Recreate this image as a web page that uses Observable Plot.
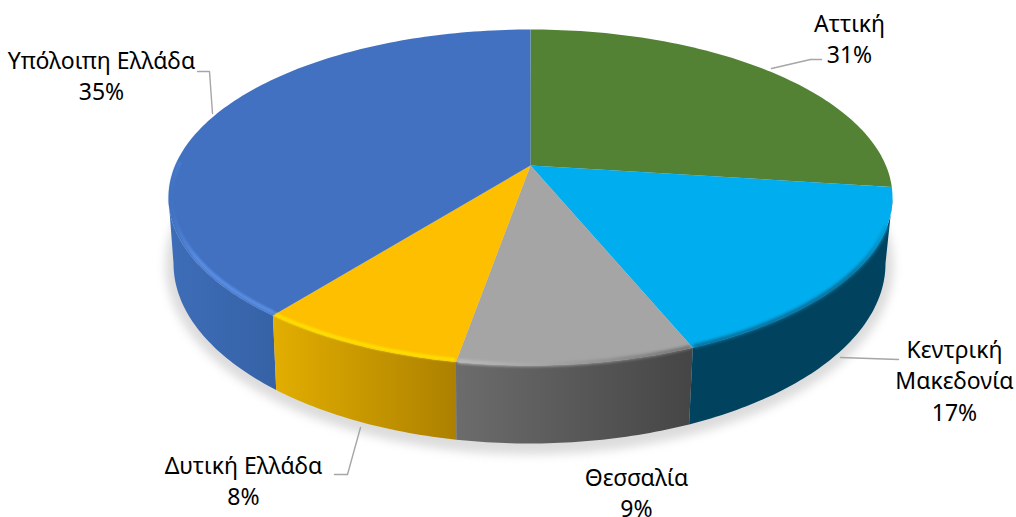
<!DOCTYPE html>
<html>
<head>
<meta charset="utf-8">
<script src="https://cdn.jsdelivr.net/npm/d3@7"></script>
<script src="https://cdn.jsdelivr.net/npm/@observablehq/plot@0.6"></script>
<style>html,body{margin:0;padding:0;background:#fff}svg{display:block}</style>
</head>
<body>
<div id="chart"></div>
<script>
const regions = ["Αττική", "Κεντρική Μακεδονία", "Θεσσαλία", "Δυτική Ελλάδα", "Υπόλοιπη Ελλάδα"];
const labelShares = [31, 17, 9, 8, 35];
// Apparent share of the ellipse each slice occupies in the tilted picture
const drawnSweep = [24.0, 18.6, 10.7, 9.3, 37.4];
const labelLines = ["Αττική", "Κεντρική\nΜακεδονία", "Θεσσαλία", "Δυτική Ελλάδα", "Υπόλοιπη Ελλάδα"];
const labelX = [849, 954, 636, 243, 101];
const labelTop = [9, 335, 463, 451, 46];
const topFill = ["#548235", "#00AEEF", "#A5A5A5", "#FDBF00", "#4171C0"];
const leaders = [
  [[771,68],[810,59],[821,59]],
  [[840,357],[898,359]],
  [],
  [[360,427],[347,474],[334,474]],
  [[197,71],[209,71],[212,113]]
];

const topDisc = {cx: 530, cy: 197, rx: 362, ry: 168};
const baseDisc = {cx: 529, cy: 263, rx: 356, ry: 180};
const apex = {x: 530, y: 165};

const bounds = [0, ...d3.cumsum(drawnSweep)].map(p => p * 3.6);
const pt = (e, deg, inset = 0) => {
  const a = deg * Math.PI / 180;
  return {x: e.cx + (e.rx - inset) * Math.sin(a), y: e.cy - (e.ry - inset) * Math.cos(a)};
};
const arc = (e, a0, a1, inset = 0) => {
  const n = Math.max(2, Math.ceil(Math.abs(a1 - a0)));
  return d3.range(n + 1).map(i => pt(e, a0 + (a1 - a0) * i / n, inset));
};
const wedge = i => [apex, ...arc(topDisc, bounds[i], bounds[i + 1])];
const wall = (a0, a1) => [...arc(topDisc, a0, a1), ...arc(baseDisc, a1, a0)];

const area = (data, fill, extra = {}) => Plot.line(data, {x: "x", y: "y", fill, stroke: "none", ...extra});
const rimLine = (a0, a1, inset, stroke, strokeWidth, blur) =>
  Plot.line(arc(topDisc, a0, a1, inset), {x: "x", y: "y", stroke, strokeWidth, imageFilter: `blur(${blur}px)`});

const [b0, b1, b2, b3, b4, b5] = bounds;

const marks = [
  // soft ground shadow
  area(arc({...baseDisc, cx: 529, cy: 265, rx: 364, ry: 189}, 0, 360), "#dcdcdc", {imageFilter: "blur(5px)"}),
  // side walls
  area(wall(b4, 270), "url(#wallBlue)"),
  area(wall(b3, b4), "url(#wallYellow)"),
  area(wall(b2, b3), "url(#wallGray)"),
  area(wall(90, b2), "#01435F"),
  // top faces
  ...regions.map((r, i) => area(wedge(i), topFill[i])),
  // bevel along the front rim
  rimLine(b1 + 14, b2 - 0.5, 1, "url(#rimCyan)", 4, 1.6),
  rimLine(b2 + 0.5, b3 - 0.5, 1, "url(#rimGray)", 4, 1.4),
  rimLine(b3 + 0.4, b4 - 0.4, 2, "#FFE000", 3.5, 1.1),
  rimLine(b4 + 0.5, 282, 3, "url(#rimBlue)", 4, 1.1),
  // leader lines
  ...leaders.filter(l => l.length).map(l =>
    Plot.line(l.map(([x, y]) => ({x, y})), {x: "x", y: "y", stroke: "#a6a6a6", strokeWidth: 1.4})),
  // labels
  Plot.text(regions.map((r, i) => ({
    x: labelX[i], y: labelTop[i], t: `${labelLines[i]}\n${labelShares[i]}%`
  })), {
    x: "x", y: "y", text: "t", lineAnchor: "top", textAnchor: "middle", lineHeight: 1.37,
    fontSize: 23, fontFamily: "'Noto Sans', sans-serif", fill: "#000"
  })
];

const svg = Plot.plot({
  width: 1016, height: 517, margin: 0,
  x: {domain: [0, 1016], range: [0, 1016], axis: null},
  y: {domain: [0, 517], range: [0, 517], axis: null},
  style: {background: "transparent", overflow: "hidden"},
  marks
});

const defs = d3.select(svg).insert("defs", ":first-child");
const grad = (id, x1, x2, stops) => {
  const g = defs.append("linearGradient").attr("id", id)
    .attr("gradientUnits", "userSpaceOnUse")
    .attr("x1", x1).attr("x2", x2).attr("y1", 0).attr("y2", 0);
  stops.forEach(([o, c]) => g.append("stop").attr("offset", o).attr("stop-color", c));
};
grad("wallBlue", 170, 278, [[0, "#3E6DB8"], [1, "#3562A6"]]);
grad("wallYellow", 273, 457, [[0, "#E2AE00"], [1, "#AC8000"]]);
grad("wallGray", 456, 693, [[0, "#6C6C6C"], [1, "#454545"]]);
grad("rimCyan", 693, 890, [[0, "#0A6E98"], [0.8, "#0A6E98"], [1, "#00A0DA"]]);
grad("rimGray", 456, 693, [[0, "#BDBDBD"], [0.45, "#A0A0A0"], [1, "#6E6E6E"]]);
grad("rimBlue", 170, 273, [[0, "#4171C0"], [0.25, "#5A8EE4"], [1, "#5A8EE4"]]);

document.getElementById("chart").append(svg);
</script>
</body>
</html>
